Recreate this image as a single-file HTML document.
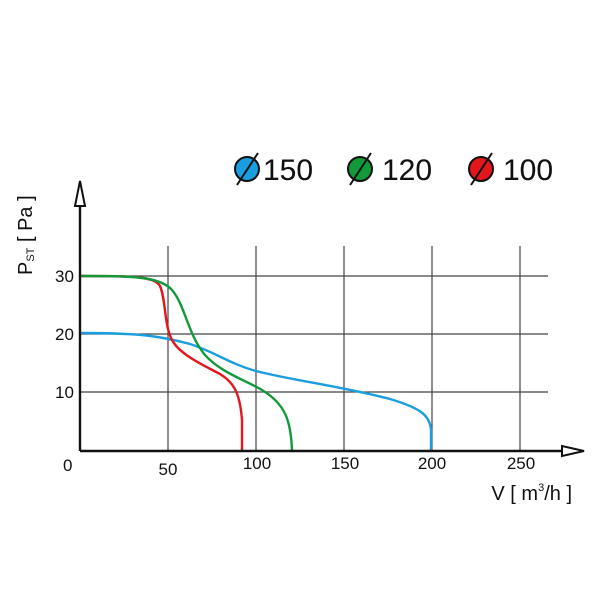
<!DOCTYPE html>
<html><head><meta charset="utf-8"><style>
html,body{margin:0;padding:0;background:#fff;}
svg{display:block;font-family:"Liberation Sans",sans-serif;}
</style></head><body>
<svg width="600" height="600" viewBox="0 0 600 600" xmlns="http://www.w3.org/2000/svg">
<rect width="600" height="600" fill="#fff"/>
<g stroke="#444" stroke-width="1.2">
<line x1="80" y1="276" x2="548" y2="276"/>
<line x1="80" y1="334" x2="548" y2="334"/>
<line x1="80" y1="392" x2="548" y2="392"/>
<line x1="168" y1="246" x2="168" y2="451"/>
<line x1="256" y1="246" x2="256" y2="451"/>
<line x1="344" y1="246" x2="344" y2="451"/>
<line x1="432" y1="246" x2="432" y2="451"/>
<line x1="520" y1="246" x2="520" y2="451"/>
</g>
<g fill="none" stroke-width="2.4" stroke-linecap="round" stroke-linejoin="round">
<path stroke="#1a9ee0" d="M80,333 C140,333 160,336 190,344 C215,352 230,364 256,371 C290,380 340,386 390,399 C420,408 430,415 431,430 L431,451"/>
<path stroke="#e3161c" d="M80,276 C130,276 155,276 160,286 C166,300 164,325 172,340 C180,355 205,366 220,374 C235,383 240,395 242,420 L242,451"/>
<path stroke="#129a3a" d="M80,276 C130,276 160,276 172,290 C185,305 188,335 205,355 C220,372 245,380 262,390 C285,404 291,420 292,451"/>
</g>
<g stroke="#111" stroke-width="2.4" fill="none">
<line x1="80" y1="451" x2="570" y2="451"/>
<line x1="80" y1="451" x2="80" y2="200"/>
</g>
<path d="M80,181 L85,206 L75,206 Z" fill="#fff" stroke="#111" stroke-width="2"/>
<path d="M584,451 L562,446 L562,456 Z" fill="#fff" stroke="#111" stroke-width="2"/>
<g font-size="17" fill="#111">
<text x="55" y="282">30</text>
<text x="55" y="340">20</text>
<text x="55" y="398">10</text>
<text x="63" y="471">0</text>
<text x="168" y="475" text-anchor="middle">50</text>
<text x="257" y="469" text-anchor="middle">100</text>
<text x="345" y="469" text-anchor="middle">150</text>
<text x="432" y="469" text-anchor="middle">200</text>
<text x="521" y="469" text-anchor="middle">250</text>
</g>
<text x="572" y="500" font-size="20" fill="#111" text-anchor="end">V [ m<tspan font-size="11" dy="-9">3</tspan><tspan dy="9">/h ]</tspan></text>
<text transform="translate(32,275) rotate(-90)" font-size="20" fill="#111">P<tspan font-size="11" dy="2">ST</tspan><tspan dy="-2"> [ Pa ]</tspan></text>
<g stroke="#111" stroke-width="2">
<circle cx="247" cy="169" r="12" fill="#1a9ee0"/>
<line x1="237" y1="185" x2="258" y2="153"/>
<circle cx="360" cy="169" r="12" fill="#129a3a"/>
<line x1="350" y1="185" x2="371" y2="153"/>
<circle cx="481" cy="169" r="12" fill="#e3161c"/>
<line x1="471" y1="185" x2="492" y2="153"/>
</g>
<g font-size="30" fill="#fff" stroke="#111" stroke-width="0.1">
<text x="263" y="180" fill="#111">150</text>
<text x="382" y="180" fill="#111">120</text>
<text x="503" y="180" fill="#111">100</text>
</g>
</svg>
</body></html>
